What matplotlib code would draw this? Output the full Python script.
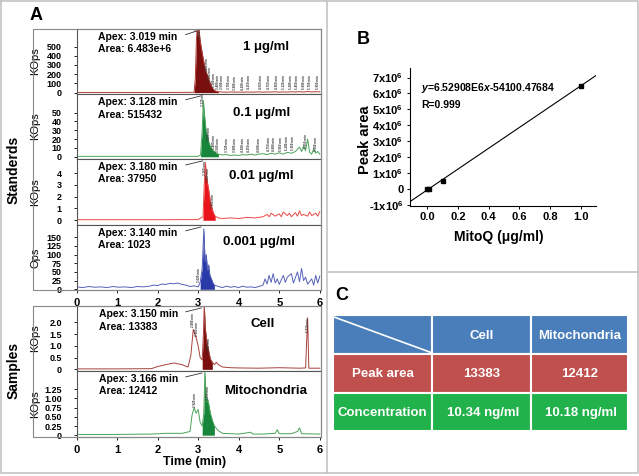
import numpy as np
import matplotlib.pyplot as plt
from matplotlib.patches import Rectangle

plt.rcParams['font.family'] = ['Liberation Sans', 'DejaVu Sans']
plt.rcParams['font.weight'] = 'bold'
plt.rcParams['mathtext.fontset'] = 'custom'
plt.rcParams['mathtext.rm'] = 'Liberation Sans:bold'
plt.rcParams['mathtext.it'] = 'Liberation Sans:italic:bold'
plt.rcParams['mathtext.bf'] = 'Liberation Sans:bold'
plt.rcParams['mathtext.default'] = 'rm'

W, H = 639, 476

# ---- panel A: chromatograms (time in min) ----
t1 = [0, 1.0, 2.0, 2.9, 2.93, 2.96, 2.98, 3.0, 3.02, 3.05, 3.08, 3.1, 3.14, 3.18, 3.22, 3.26,
      3.3, 3.34, 3.38, 3.42, 3.5, 3.6, 3.7, 3.8, 3.9, 4.0, 4.1, 4.2, 4.3, 4.4, 4.5, 4.6, 4.7,
      4.8, 4.9, 5.0, 5.1, 5.2, 5.3, 5.4, 5.5, 5.6, 5.7, 5.8, 5.9, 6.0]
v1 = [2, 2, 2, 3, 150, 600, 690, 620, 690, 560, 480, 430, 330, 250, 200, 150,
      100, 60, 35, 20, 10, 6, 5, 7, 5, 6, 4, 7, 5, 6, 8, 5, 7,
      6, 9, 5, 8, 6, 9, 7, 10, 6, 12, 7, 10, 9]

t2 = [0, 1.0, 2.0, 3.0, 3.06, 3.1, 3.128, 3.15, 3.18, 3.2, 3.23, 3.26, 3.3, 3.35, 3.4, 3.45,
      3.5, 3.6, 3.7, 3.8, 3.9, 4.0, 4.1, 4.2, 4.3, 4.4, 4.5, 4.6, 4.7, 4.8, 4.9, 5.0, 5.1,
      5.2, 5.3, 5.4, 5.5, 5.55, 5.6, 5.65, 5.7, 5.75, 5.8, 5.85, 5.9, 5.95, 6.0]
v2 = [0.5, 0.5, 0.5, 0.5, 2, 30, 64, 50, 36, 28, 24, 17, 12, 8, 6, 4,
      3, 2, 2.5, 1.5, 2, 1.5, 2.5, 2, 3, 2, 3, 3.5, 2.5, 4, 3, 4.5, 3,
      5, 4, 6, 11, 6, 12, 7, 20, 5, 3, 9, 4, 6, 3]

t3 = [0, 1.0, 2.0, 3.0, 3.12, 3.15, 3.18, 3.2, 3.23, 3.26, 3.3, 3.34, 3.38, 3.42, 3.5, 3.6,
      3.8, 4.0, 4.2, 4.4, 4.6, 4.7, 4.75, 4.8, 4.9, 5.0, 5.05, 5.1, 5.2, 5.25, 5.3, 5.4,
      5.45, 5.5, 5.55, 5.6, 5.7, 5.75, 5.8, 5.9, 5.95, 6.0]
v3 = [0.05, 0.05, 0.05, 0.06, 0.3, 3.0, 4.9, 3.8, 3.2, 2.6, 1.6, 1.0, 0.6, 0.35, 0.2, 0.15,
      0.2, 0.15, 0.25, 0.2, 0.3, 0.5, 0.3, 0.6, 0.35, 0.55, 0.3, 0.7, 0.4, 0.6, 0.3, 0.65,
      0.35, 0.8, 0.4, 0.5, 0.35, 0.7, 0.4, 0.6, 0.35, 0.75]

t4 = [0, 0.15, 0.3, 0.45, 0.6, 0.75, 0.9, 1.05, 1.2, 1.35, 1.5, 1.65, 1.8, 1.9, 2.0, 2.1, 2.2,
      2.3, 2.4, 2.5, 2.6, 2.7, 2.8, 2.9, 3.0, 3.05, 3.1, 3.14,
      3.17, 3.2, 3.23, 3.26, 3.29, 3.32, 3.36, 3.4, 3.5, 3.6, 3.7, 3.8, 3.9, 4.0, 4.1, 4.2,
      4.3, 4.4, 4.5, 4.6, 4.65,
      4.7, 4.75, 4.8, 4.85, 4.9, 4.95, 5.0, 5.1, 5.15, 5.2, 5.3, 5.35, 5.45, 5.5, 5.55, 5.6,
      5.65, 5.7, 5.8, 5.85, 5.9, 5.95, 6.0]
v4 = [7, 5, 8, 6, 7, 5, 8, 6, 7, 5, 8, 7, 9, 12, 11, 15, 14,
      17, 16, 18, 14, 12, 8, 10, 7, 20, 60, 174,
      80, 100, 55, 70, 40, 32, 20, 12, 8, 5, 9, 6, 8, 5, 9, 6,
      7, 5, 8, 12, 30,
      15, 40, 20, 45, 18, 30, 14, 40, 20, 35, 45, 18, 50, 22, 60, 25,
      35, 15, 30, 12, 40, 18, 38]

t5 = [0, 1.0, 1.85, 2.0, 2.2, 2.4, 2.6, 2.75, 2.82, 2.88, 2.92, 2.96, 3.0, 3.05, 3.1, 3.13,
      3.15, 3.18, 3.22, 3.26, 3.3, 3.35, 3.4, 3.45, 3.5, 3.6, 3.8, 4.0, 4.5, 5.0, 5.5, 5.65,
      5.7, 5.73, 5.8, 6.0]
v5 = [0.02, 0.02, 0.03, 0.12, 0.2, 0.27, 0.2, 0.1, 0.6, 1.7, 1.5, 1.3, 1.0, 0.5, 0.4, 1.5,
      2.75, 1.7, 1.1, 0.8, 0.45, 0.3, 0.2, 0.3, 0.2, 0.1, 0.07, 0.06, 0.05, 0.07, 0.05, 0.06,
      2.2, 0.05, 0.05, 0.05]

t6 = [0, 1.0, 1.85, 2.2, 2.6, 2.8, 2.85, 2.9, 2.95, 3.0, 3.05, 3.1, 3.14, 3.166, 3.2, 3.23,
      3.26, 3.3, 3.35, 3.4, 3.5, 3.6, 3.8, 4.0, 4.3, 4.35, 4.6, 4.9, 4.95, 5.0, 5.3, 5.45,
      5.5, 5.55, 6.0]
v6 = [0.02, 0.02, 0.03, 0.05, 0.05, 0.1, 0.55, 0.75, 0.6, 0.7, 0.35, 0.25, 0.6, 1.75, 0.9, 1.0,
      0.85, 0.6, 0.4, 0.25, 0.12, 0.05, 0.04, 0.03, 0.08, 0.03, 0.03, 0.05, 0.15, 0.04, 0.04, 0.1,
      0.2, 0.04, 0.03]

traces = [
    # t, v, ylim, yticks, ytick labels, unit, line colour, fill colour, fill span, apex, area, name
    (t1, v1, (-15, 690), [0, 100, 200, 300, 400, 500], ['0', '100', '200', '300', '400', '500'],
     'KOps', '#b03a32', '#7a0f0f', (2.9, 3.5), '3.019', '6.483e+6', '1 μg/ml'),
    (t2, v2, (-2.5, 71), [0, 10, 20, 30, 40, 50], ['0', '10', '20', '30', '40', '50'],
     'KOps', '#4aa35a', '#17853a', (3.03, 3.5), '3.128', '515432', '0.1 μg/ml'),
    (t3, v3, (-0.4, 5.2), [0, 1, 2, 3, 4], ['0', '1', '2', '3', '4'],
     'KOps', '#ea4a44', '#e8131b', (3.1, 3.45), '3.180', '37950', '0.01 μg/ml'),
    (t4, v4, (-2, 185), [0, 25, 50, 75, 100, 125, 150], ['0', '25', '50', '75', '100', '125', '150'],
     'Ops', '#5561b8', '#2a3aa8', (3.05, 3.45), '3.140', '1023', '0.001 μg/ml'),
    (t5, v5, (-0.07, 2.7), [0, 0.5, 1.0, 1.5, 2.0], ['0', '0.5', '1.0', '1.5', '2.0'],
     'KOps', '#a8403a', '#7a0f0f', (3.1, 3.36), '3.150', '13383', 'Cell'),
    (t6, v6, (-0.05, 1.75), [0, 0.25, 0.5, 0.75, 1.0, 1.25], ['0', '0.25', '0.50', '0.75', '1.00', '1.25'],
     'KOps', '#4aa35a', '#17853a', (3.1, 3.45), '3.166', '12412', 'Mitochondria'),
]
# small peak-time tags printed by the software
tags = [
    [2.97, 3.05, 3.22, 3.3, 3.38, 3.48, 3.58, 3.75, 3.9, 4.1, 4.25, 4.55, 4.75, 4.95, 5.12, 5.28, 5.45, 5.6, 5.75, 5.95],
    [3.12, 3.28, 3.4, 3.5, 3.72, 3.9, 4.1, 4.25, 4.5, 4.75, 4.88, 5.05, 5.2, 5.35, 5.65, 5.9],
    [3.16, 3.24, 3.36],
    [3.02],
    [2.88, 2.96, 3.15, 3.28, 5.71],
    [2.92, 3.25],
]

# ---- panel B: calibration ----
conc = [0.001, 0.01, 0.1, 1.0]
area = [1023, 37950, 515432, 6.483e6]
slope, icpt = 6.52908e6, -54100.47684

# ---- panel C: table ----
col_heads = ['Cell', 'Mitochondria']
row_heads = ['Peak area', 'Concentration']
cells = [['13383', '12412'], ['10.34 ng/ml', '10.18 ng/ml']]

fig = plt.figure(figsize=(W / 100, H / 100), dpi=100)
bg = fig.add_axes([0, 0, 1, 1])
bg.set_xlim(0, W)
bg.set_ylim(H, 0)
bg.axis('off')
bg.set_zorder(5)
bg.patch.set_visible(False)


def rect(left, top, right, bottom):
    return [left / W, 1 - bottom / H, (right - left) / W, (bottom - top) / H]


# figure borders
g = '#c4c4c4'
bg.plot([1, W - 1, W - 1, 1, 1], [1, 1, H - 3, H - 3, 1], color=g, lw=1.2)
bg.plot([327, 327], [1, H - 3], color=g, lw=1.2)
bg.plot([327, W - 1], [272, 272], color=g, lw=1.2)

bg.text(36, 15, 'A', fontsize=13, ha='center', va='center')
bg.text(363, 40, 'B', fontsize=13, ha='center', va='center')
bg.text(342, 296, 'C', fontsize=13, ha='center', va='center')

# group frames around chromatograms
for top, bottom in [(29, 290), (306, 437)]:
    bg.add_patch(Rectangle((32.6, top), 321 - 32.6, bottom - top, fill=False, ec='#888888', lw=0.8))
bg.text(14, 170, 'Standerds', rotation=90, fontsize=10, ha='center', va='center')
bg.text(14, 370, 'Samples', rotation=90, fontsize=10, ha='center', va='center')

bounds = [(29, 94), (94, 159), (159, 225), (225, 290), (306, 371), (371, 437)]
name_x = [266, 262, 261, 259, 263, 266]
name_dy = [18, 19, 17, 17, 18, 20]
for i, (tr, (top, bottom)) in enumerate(zip(traces, bounds)):
    t, v, ylim, yt, ytl, unit, lc, fc, span, apex, ar, name = tr
    ax = fig.add_axes(rect(76.5, top, 321, bottom))
    t = np.array(t)
    v = np.array(v)
    m = (t >= span[0]) & (t <= span[1])
    ax.fill_between(t[m], 0, v[m], color=fc, lw=0)
    ax.plot(t, v, color=lc, lw=0.7)
    ax.set_xlim(0, 6.03)
    ax.set_ylim(*ylim)
    ax.set_yticks(yt)
    ax.set_yticklabels(ytl, fontsize=6.5)
    ax.set_xticks(range(7))
    ax.tick_params(axis='y', direction='out', length=2.5, pad=8, width=0.6)
    ax.tick_params(axis='x', direction='out', length=2.5, width=0.6)
    for s in ax.spines.values():
        s.set_color('#555555')
        s.set_linewidth(0.8)
    if i in (3, 5):
        ax.set_xticklabels([str(k) for k in range(7)], fontsize=8)
    else:
        ax.set_xticklabels([])
    ax.set_ylabel(unit, fontsize=8)
    ax.yaxis.set_label_coords(-0.148, 0.5)
    # peak tags
    for tg in tags[i]:
        yv = np.interp(tg, t, v)
        ax.text(tg, yv + 0.04 * (ylim[1] - ylim[0]), f'{tg:.3f} min', rotation=90, fontsize=2.2,
                ha='center', va='bottom', color='#333333', clip_on=True)
    ya = top + 8
    bg.text(98 if i < 4 else 99, ya, f'Apex: {apex} min', fontsize=7.5, ha='left', va='center')
    bg.text(98 if i < 4 else 99, ya + 12.5, f'Area: {ar}', fontsize=7.5, ha='left', va='center')
    ax.annotate('', xy=(float(apex), ylim[1] * 0.98), xycoords='data',
                xytext=(0.435, 0.9), textcoords='axes fraction',
                arrowprops=dict(arrowstyle='-', lw=0.6, color='#333333'))
    bg.text(name_x[i], top + name_dy[i], name, fontsize=9.5, ha='center', va='center')

bg.text(195, 462, 'Time (min)', fontsize=9, ha='center', va='center')

# panel B
axb = fig.add_axes(rect(409.5, 68, 596, 206))
xl = np.array([-0.115, 1.1])
axb.plot(xl, slope * xl + icpt, color='black', lw=0.8)
axb.plot(conc, area, 's', color='black', ms=3.5)
axb.set_xlim(-0.115, 1.1)
axb.set_ylim(-1.06e6, 7.6e6)
axb.spines['top'].set_visible(False)
axb.spines['right'].set_visible(False)
axb.set_xticks([0, 0.2, 0.4, 0.6, 0.8, 1.0])
axb.set_xticklabels(['0.0', '0.2', '0.4', '0.6', '0.8', '1.0'], fontsize=8)
yb = [-1e6, 0, 1e6, 2e6, 3e6, 4e6, 5e6, 6e6, 7e6]
axb.set_yticks(yb)
axb.set_yticklabels(['-1x10$^{6}$', '0'] + [f'{k}x10$^{{6}}$' for k in range(1, 8)], fontsize=8)
axb.tick_params(direction='out', length=2.5, width=0.7, pad=2)
axb.text(0.062, 0.855, r'$\mathit{y}$=6.52908E6$\mathit{x}$-54100.47684', transform=axb.transAxes,
         fontsize=7.5, va='center')
axb.text(0.062, 0.73, 'R=0.999', transform=axb.transAxes, fontsize=7.5, va='center')
bg.text(365, 140, 'Peak area', rotation=90, fontsize=10.5, ha='center', va='center')
bg.text(499, 237, 'MitoQ (μg/ml)', fontsize=10, ha='center', va='center')

# panel C table
xs = [333, 432, 530.5, 628]
ys = [315, 353.5, 392.5, 431]
row_colors = ['#4a7ebb', '#c0504d', '#21b24b']
for r in range(3):
    for c in range(3):
        bg.add_patch(Rectangle((xs[c], ys[r]), xs[c + 1] - xs[c], ys[r + 1] - ys[r],
                               fc=row_colors[r], ec='white', lw=1.5))
bg.plot([xs[0] + 1, xs[1] - 1], [ys[0] + 2, ys[1] - 1], color='white', lw=1.2)
for c, s in enumerate(col_heads):
    bg.text((xs[c + 1] + xs[c + 2]) / 2, 336, s, color='white', fontsize=9.5, ha='center', va='center')
for r, s in enumerate(row_heads):
    bg.text((xs[0] + xs[1]) / 2, [374, 413][r], s, color='white', fontsize=9.5, ha='center', va='center')
    for c in range(2):
        bg.text((xs[c + 1] + xs[c + 2]) / 2 + (2 if r == 1 else 0), [374, 413][r], cells[r][c],
                color='white', fontsize=9.5, ha='center', va='center')

fig.savefig('out.png', dpi=100)
